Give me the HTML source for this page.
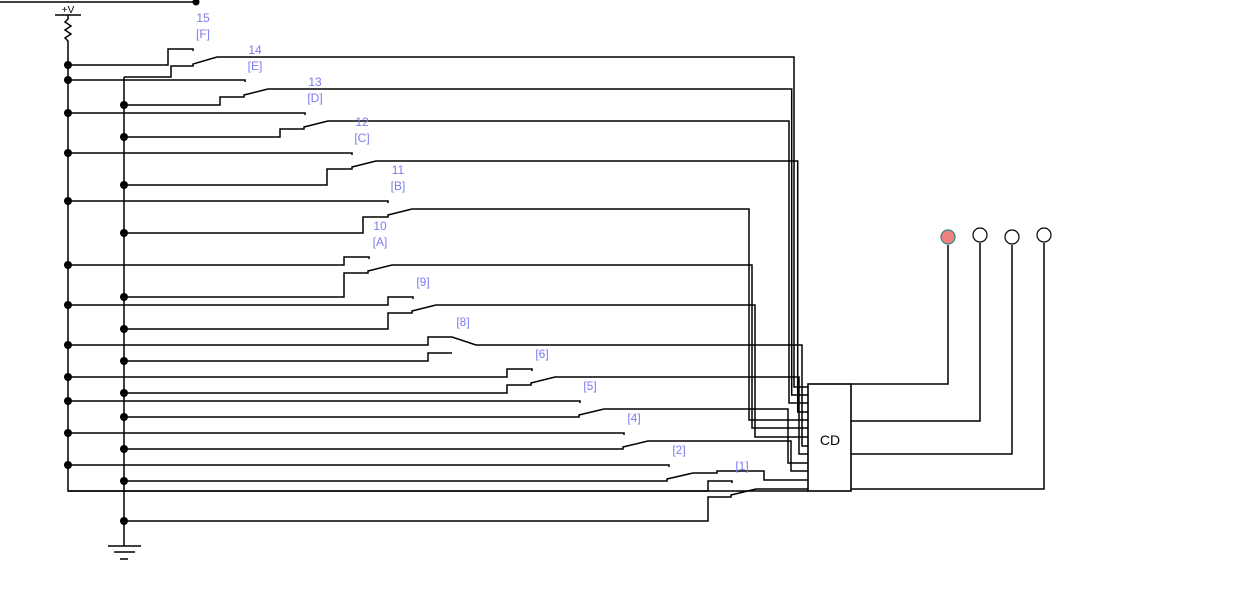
<!DOCTYPE html>
<html><head><meta charset="utf-8"><style>
html,body{margin:0;padding:0;background:#fff;}
svg{display:block;}
text{font-family:"Liberation Sans",sans-serif;font-size:12px;fill:#7b7bf0;text-anchor:middle;}
</style></head><body>
<svg width="1236" height="611" viewBox="0 0 1236 611" xmlns="http://www.w3.org/2000/svg">
<g fill="none" stroke="#000" stroke-width="1.5">
<path d="M0 2H196"/>
<path d="M55 15H81"/>
<path d="M68 15V19L65 22L71 26L65 30L71 34L65 38L68 41V491H808"/>
<path d="M124 77V546"/>
<path d="M108 546H141M114 552H135M120 559H128"/>
<path d="M68 65H168V49H193V51"/>
<path d="M124 77H171V66H193V64L217 57H794V387H808"/>
<path d="M68 80H245V82"/>
<path d="M124 105H220V97H244V95L268 89H791.7V395H808"/>
<path d="M68 113H305V115"/>
<path d="M124 137H280V129H304V127L328 121H789V403H808"/>
<path d="M68 153H352V155"/>
<path d="M124 185H327V169H352V167L376 161H797.7V412H808"/>
<path d="M68 201H388V203"/>
<path d="M124 233H363V217H388V215L412 209H749V420H808"/>
<path d="M68 265H344V257H369V259"/>
<path d="M124 297H344V273H368V271L392 265H752V428H808"/>
<path d="M68 305H388V297H413V299"/>
<path d="M124 329H388V313H412V311L436 305H755V437H808"/>
<path d="M68 345H428V337H452L476 345H802V446H808"/>
<path d="M124 361H428V353H452"/>
<path d="M68 377H507V369H532V371"/>
<path d="M124 393H507V385H531V383L555 377H799V454H808"/>
<path d="M68 401H580V403"/>
<path d="M124 417H579V415L604 409H788V463H808"/>
<path d="M68 433H624V435"/>
<path d="M124 449H623V447L648 441H791V471H808"/>
<path d="M68 465H669V467"/>
<path d="M124 481H667V479L693 473H717V471H764V480H808"/>
<path d="M68 491H708V481H732V483"/>
<path d="M124 521H708V497H731V495L756 489H808"/>
<rect x="808" y="384" width="43" height="107" stroke-width="1.6"/>
<path d="M851 384H948V245"/>
<path d="M851 421H980V243"/>
<path d="M851 454H1012V245"/>
<path d="M851 489H1044V243"/>
</g>
<g fill="#000">
<circle cx="196" cy="2" r="3.5"/>
<circle cx="68" cy="65" r="4"/><circle cx="68" cy="80" r="4"/><circle cx="68" cy="113" r="4"/>
<circle cx="68" cy="153" r="4"/><circle cx="68" cy="201" r="4"/><circle cx="68" cy="265" r="4"/>
<circle cx="68" cy="305" r="4"/><circle cx="68" cy="345" r="4"/><circle cx="68" cy="377" r="4"/>
<circle cx="68" cy="401" r="4"/><circle cx="68" cy="433" r="4"/><circle cx="68" cy="465" r="4"/>
<circle cx="124" cy="105" r="4"/><circle cx="124" cy="137" r="4"/><circle cx="124" cy="185" r="4"/>
<circle cx="124" cy="233" r="4"/><circle cx="124" cy="297" r="4"/><circle cx="124" cy="329" r="4"/>
<circle cx="124" cy="361" r="4"/><circle cx="124" cy="393" r="4"/><circle cx="124" cy="417" r="4"/>
<circle cx="124" cy="449" r="4"/><circle cx="124" cy="481" r="4"/><circle cx="124" cy="521" r="4"/>
</g>
<circle cx="948" cy="237" r="7" fill="#f47f7f" stroke="#2a8a8a" stroke-width="1.2"/>
<circle cx="980" cy="235" r="7" fill="#fff" stroke="#000" stroke-width="1.2"/>
<circle cx="1012" cy="237" r="7" fill="#fff" stroke="#000" stroke-width="1.2"/>
<circle cx="1044" cy="235" r="7" fill="#fff" stroke="#000" stroke-width="1.2"/>
<text x="68" y="13" style="fill:#000;font-size:10px">+V</text>
<text x="830" y="445" style="fill:#000;font-size:14px">CD</text>
<text x="203" y="22">15</text><text x="203" y="38">[F]</text>
<text x="255" y="54">14</text><text x="255" y="70">[E]</text>
<text x="315" y="86">13</text><text x="315" y="102">[D]</text>
<text x="362" y="126">12</text><text x="362" y="142">[C]</text>
<text x="398" y="174">11</text><text x="398" y="190">[B]</text>
<text x="380" y="230">10</text><text x="380" y="246">[A]</text>
<text x="423" y="286">[9]</text>
<text x="463" y="326">[8]</text>
<text x="542" y="358">[6]</text>
<text x="590" y="390">[5]</text>
<text x="634" y="422">[4]</text>
<text x="679" y="454">[2]</text>
<text x="742" y="470">[1]</text>
</svg>
</body></html>
